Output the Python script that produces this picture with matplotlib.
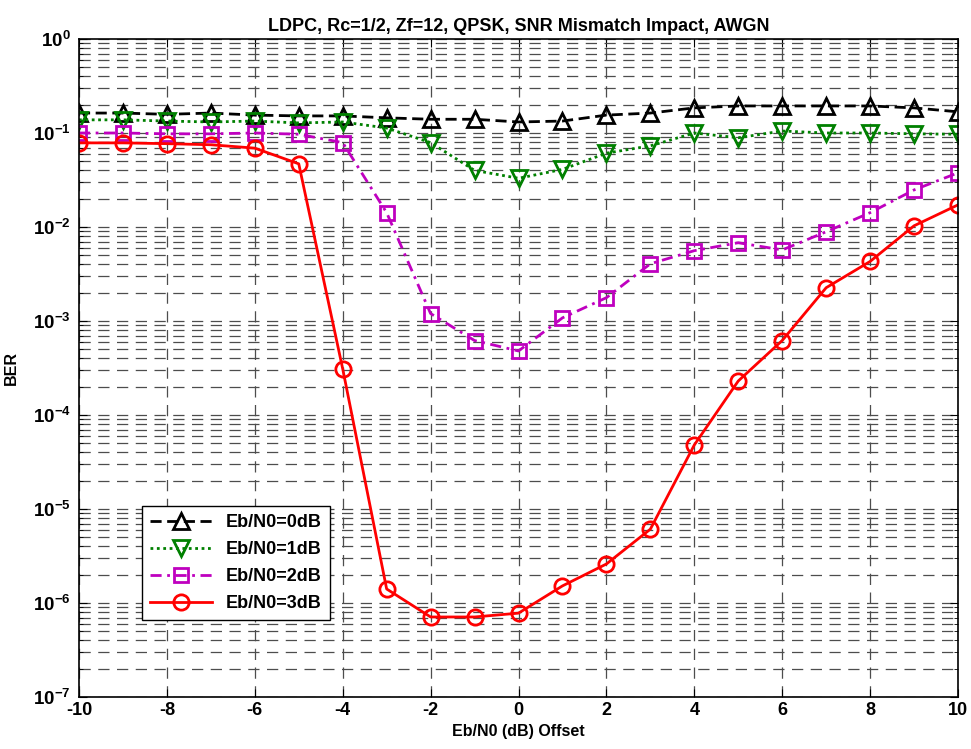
import matplotlib
matplotlib.use("Agg")
import matplotlib.pyplot as plt
from matplotlib.ticker import LogLocator, FixedLocator, NullFormatter

plt.rcParams['font.family'] = ['Liberation Sans', 'DejaVu Sans']
plt.rcParams['font.weight'] = 'bold'
plt.rcParams['axes.unicode_minus'] = False
plt.rcParams['mathtext.fontset'] = 'custom'
plt.rcParams['mathtext.rm'] = 'Liberation Sans:bold'
plt.rcParams['mathtext.bf'] = 'Liberation Sans:bold'
plt.rcParams['mathtext.default'] = 'bf'

# data
offset = list(range(-10, 11))
ber_0db = [0.163, 0.163, 0.158, 0.163, 0.155, 0.152, 0.152, 0.145, 0.140, 0.140, 0.131,
           0.134, 0.155, 0.163, 0.185, 0.194, 0.194, 0.194, 0.194, 0.185, 0.168]
ber_1db = [0.138, 0.138, 0.134, 0.131, 0.134, 0.128, 0.131, 0.113, 0.079, 0.040, 0.033,
           0.041, 0.061, 0.073, 0.100, 0.089, 0.105, 0.100, 0.100, 0.098, 0.097]
ber_2db = [0.100, 0.100, 0.098, 0.098, 0.100, 0.097, 0.079, 0.0142, 1.2e-3, 6.2e-4, 4.8e-4,
           1.08e-3, 1.77e-3, 4.06e-3, 5.6e-3, 6.8e-3, 5.7e-3, 8.9e-3, 0.0142, 0.0248, 0.0377]
ber_3db = [0.0785, 0.0785, 0.077, 0.075, 0.069, 0.047, 3.1e-4, 1.41e-6, 7.1e-7, 7.1e-7, 7.8e-7,
           1.52e-6, 2.6e-6, 6.1e-6, 4.8e-5, 2.3e-4, 6.2e-4, 2.26e-3, 4.3e-3, 0.0103, 0.0172]
labels = ["Eb/N0=0dB", "Eb/N0=1dB", "Eb/N0=2dB", "Eb/N0=3dB"]
ytick_vals = [1e-7, 1e-6, 1e-5, 1e-4, 1e-3, 1e-2, 1e-1, 1e0]
ytick_text = [r"$10^{-7}$", r"$10^{-6}$", r"$10^{-5}$", r"$10^{-4}$",
              r"$10^{-3}$", r"$10^{-2}$", r"$10^{-1}$", r"$10^{0}$"]

fig = plt.figure(figsize=(9.71, 7.49), dpi=100)
ax = fig.add_axes([79 / 971, 1 - 697 / 749, (958 - 79) / 971, (697 - 39) / 749])

lw = 2.0
ms = 11
ax.semilogy(offset, ber_0db, color='black', linestyle=(0, (4, 2)), marker='^', ms=ms,
            mfc='none', mew=2, lw=lw, label=labels[0])
ax.semilogy(offset, ber_1db, color='green', linestyle=(0, (1, 1.3)), marker='v', ms=ms,
            mfc='none', mew=2, lw=lw, label=labels[1])
ax.semilogy(offset, ber_2db, color='m', linestyle=(0, (4, 2, 1, 2)), marker='s', ms=ms - 1,
            mfc='none', mew=2, lw=lw, label=labels[2])
ax.semilogy(offset, ber_3db, color='red', linestyle='-', marker='o', ms=ms,
            mfc='none', mew=2, lw=lw, label=labels[3])

ax.set_xlim(-10, 10)
ax.set_ylim(1e-7, 1)
ax.xaxis.set_major_locator(FixedLocator(range(-10, 11, 2)))
ax.set_yticks(ytick_vals)
ax.set_yticklabels(ytick_text)
ax.yaxis.set_minor_locator(LogLocator(base=10, subs=range(2, 10), numticks=20))
ax.yaxis.set_minor_formatter(NullFormatter())

ax.grid(True, which='major', axis='both', color='#4d4d4d', linestyle=(0, (9, 6)), lw=0.9)
ax.grid(True, which='minor', axis='y', color='#4d4d4d', linestyle=(0, (9, 6)), lw=0.9)

ax.tick_params(which='both', direction='in', top=True, right=True, labelsize=13)
ax.tick_params(which='major', length=6)
ax.tick_params(which='minor', length=3)
ax.tick_params(axis='y', pad=6, labelsize=13.5)
for t in ax.get_xticklabels() + ax.get_yticklabels():
    t.set_fontweight('bold')
for s in ax.spines.values():
    s.set_linewidth(1.2)

ax.set_title("LDPC, Rc=1/2, Zf=12, QPSK, SNR Mismatch Impact, AWGN",
             fontsize=13, fontweight='bold', pad=6)
ax.set_xlabel("Eb/N0 (dB) Offset", fontsize=11.5, fontweight='bold', labelpad=4)
ax.set_ylabel("BER", fontsize=11.5, fontweight='bold')
ax.yaxis.set_label_coords(-0.068, 0.5)

leg = ax.legend(loc='lower left', bbox_to_anchor=(0.072, 0.117), borderaxespad=0,
                fontsize=13, fancybox=False, framealpha=1, edgecolor='black',
                handlelength=3.4, borderpad=0.45, labelspacing=0.55)
leg.get_frame().set_linewidth(1.0)
for t in leg.get_texts():
    t.set_fontweight('bold')

plt.savefig("out.png", dpi=100)
